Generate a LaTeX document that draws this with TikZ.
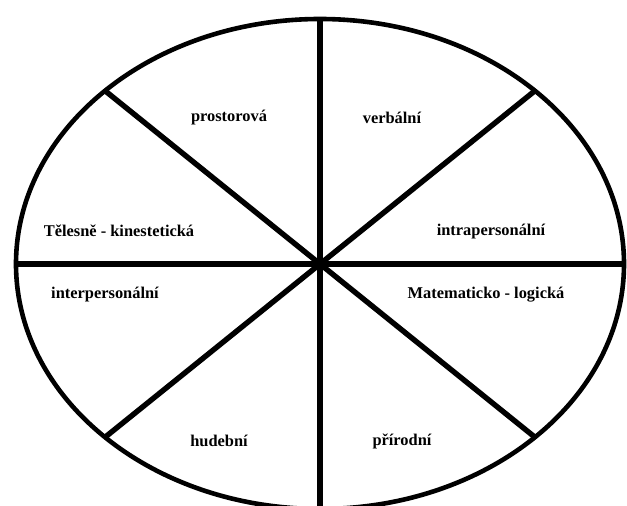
\documentclass[tikz,border=0pt]{standalone}
\usepackage{fontspec}
\setmainfont{Liberation Serif}
\usetikzlibrary{calc}

\begin{document}
\begin{tikzpicture}[x=1pt, y=1pt,
  rim/.style={draw=black, line width=4.6pt},
  spoke/.style={draw=black, line width=5.4pt},
  sector/.style={font=\fontsize{16.4}{19}\selectfont\bfseries, inner sep=0pt}
]
  \useasboundingbox (0,0) rectangle (627,506);
  \coordinate (c) at (320,242);

  % outer ellipse and its eight spokes
  \draw[rim] (c) ellipse [x radius=304pt, y radius=245pt];
  \coordinate (n) at ($(c)+(90:304pt and 245pt)$);
  \coordinate (s) at ($(c)+(270:304pt and 245pt)$);
  \coordinate (e) at ($(c)+(0:304pt and 245pt)$);
  \coordinate (w) at ($(c)+(180:304pt and 245pt)$);
  \coordinate (ne) at ($(c)+(45:304pt and 245pt)$);
  \coordinate (nw) at ($(c)+(135:304pt and 245pt)$);
  \coordinate (sw) at ($(c)+(225:304pt and 245pt)$);
  \coordinate (se) at ($(c)+(315:304pt and 245pt)$);

  \draw[spoke] (n) -- (s);
  \draw[spoke] (w) -- (e);
  \draw[spoke] (nw) -- (se);
  \draw[spoke] (sw) -- (ne);

  % sector names
  \node[sector] (prostor) at (229,388) {prostorová};
  \node[sector] (verbal) at (392,388) {verbální};
  \node[sector] (telesne) at (119,275) {Tělesně - kinestetická};
  \node[sector] (intra) at (491,274) {intrapersonální};
  \node[sector] (inter) at (105,211) {interpersonální};
  \node[sector] (matlog) at (486,211) {Matematicko - logická};
  \node[sector] (hudebni) at (219,65) {hudební};
  \node[sector] (prirodni) at (402,65) {přírodní};
\end{tikzpicture}
\end{document}
